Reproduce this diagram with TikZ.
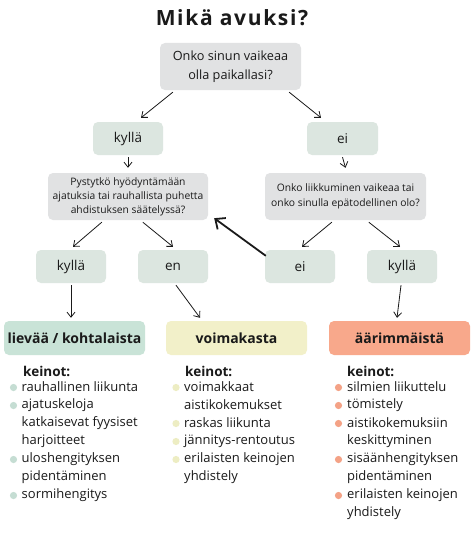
\documentclass[tikz,border=0pt]{standalone}
\usepackage{fontspec}
\setmainfont{Open Sans}
\newfontfamily\titlefont[LetterSpace=8]{Open Sans}
\usetikzlibrary{arrows.meta,calc}
\definecolor{qgray}{HTML}{E1E2E3}
\definecolor{agreen}{HTML}{DCE6E0}
\definecolor{mint}{HTML}{C9E3D7}
\definecolor{pyellow}{HTML}{F2F0C9}
\definecolor{salmon}{HTML}{F8A88B}
\definecolor{bmint}{HTML}{C5DDD3}
\definecolor{byellow}{HTML}{EDEDC3}
\definecolor{bsalmon}{HTML}{F4A286}
\definecolor{txt}{HTML}{1A1A1A}
\begin{document}
\begin{tikzpicture}[x=1pt,y=-1pt,
  box/.style={rounded corners=5pt,inner sep=0pt,align=center,text=txt},
  qbox/.style={box,fill=qgray},
  abox/.style={box,fill=agreen,minimum width=70pt,minimum height=33pt,font=\fontsize{13.5}{15}\selectfont},
  cbox/.style={box,minimum width=141pt,minimum height=34pt,font=\bfseries\fontsize{14}{15}\selectfont},
  arr/.style={-{Straight Barb[length=5pt,width=8pt]},line width=0.8pt,txt},
  item/.style={anchor=west,inner sep=0pt,text=txt,font=\fontsize{13}{14}\selectfont},
  head/.style={anchor=west,inner sep=0pt,text=txt,font=\bfseries\fontsize{13.5}{15}\selectfont},
]
\useasboundingbox (0,0) rectangle (474,535);
\fill[white] (0,0) rectangle (474,535);
\node[inner sep=0pt,text=txt] (title) at (232,18) {\titlefont\bfseries\fontsize{21}{24}\selectfont Mikä avuksi?};

\node[qbox,minimum width=141pt,minimum height=47pt,font=\fontsize{12.7}{19}\selectfont] (q1) at (230.5,66.5) {Onko sinun vaikeaa\\olla paikallasi?};
\node[abox] (k1) at (128,138.5) {kyllä};
\node[abox,minimum width=71pt] (e1) at (342.5,138.5) {ei};
\node[qbox,minimum width=160pt,minimum height=47pt,font=\fontsize{10.3}{14}\selectfont] (q2) at (128,196.5) {Pystytkö hyödyntämään\\ajatuksia tai rauhallista puhetta\\ahdistuksen säätelyssä?};
\node[qbox,minimum width=161pt,minimum height=47pt,font=\fontsize{10.3}{15}\selectfont] (q3) at (345.5,196.5) {Onko liikkuminen vaikeaa tai\\onko sinulla epätodellinen olo?};
\node[abox] (k2) at (71,266.5) {kyllä};
\node[abox] (en) at (173,266.5) {en};
\node[abox] (e2) at (300,266.5) {ei};
\node[abox] (k3) at (402,266.5) {kyllä};
\node[cbox,fill=mint] (c1) at (74.5,338) {lievää / kohtalaista};
\node[cbox,fill=pyellow] (c2) at (236.5,338) {voimakasta};
\node[cbox,fill=salmon] (c3) at (399.5,338) {äärimmäistä};

\draw[arr] ([shift={(13,2)}]q1.south west) -- ([shift={(13,-4)}]k1.north);
\draw[arr] ([shift={(-12,2)}]q1.south east) -- ([shift={(-21.5,-4)}]e1.north);
\draw[arr] ([yshift=-2pt]k1.south) -- ([yshift=5pt]q2.north);
\draw[arr] ([yshift=-2pt]e1.south) -- ([yshift=5pt]q3.north);
\draw[arr] ([shift={(54,2)}]q2.south west) -- ([shift={(2,-3)}]k2.north);
\draw[arr] ([shift={(95,2)}]q2.south west) -- ([shift={(0,-3)}]en.north);
\draw[arr] ([shift={(67,2)}]q3.south west) -- ([shift={(2,-3)}]e2.north);
\draw[arr] ([shift={(104,2)}]q3.south west) -- ([shift={(-2,-3)}]k3.north);
\draw[-{Straight Barb[length=8pt,width=14pt]},line width=1.8pt,txt] ([shift={(1,6)}]e2.north west) -- ([shift={(6,-2)}]q2.south east);
\draw[arr] ([yshift=-2pt]k2.south) -- ([shift={(-3.5,-3)}]c1.north);
\draw[arr] ([shift={(3,2)}]en.south) -- ([shift={(-36.5,-3)}]c2.north);
\draw[arr] ([shift={(-1,2)}]k3.south) -- ([shift={(-2.5,-3)}]c3.north);

% left list
\node[head] (h1) at (23,371) {keinot:};
\foreach \y/\t/\b [count=\i] in {387/rauhallinen liikunta/1,405/ajatuskeloja/1,423/katkaisevat fyysiset/0,441/harjoitteet/0,459/uloshengityksen/1,477/pidentäminen/0,495/sormihengitys/1}{
  \node[item] (l\i) at (21.5,\y) {\t};
  \ifnum\b=1 \fill[bmint] (13.5,\y+0.5) circle (3.6pt);\fi
}
% middle list
\node[head] (h2) at (185,371) {keinot:};
\foreach \y/\t/\b [count=\i] in {387/voimakkaat/1,405/aistikokemukset/0,423/raskas liikunta/1,441/jännitys-rentoutus/1,459/erilaisten keinojen/1,477/yhdistely/0}{
  \node[item] (m\i) at (184,\y) {\t};
  \ifnum\b=1 \fill[byellow] (176,\y+0.5) circle (3.6pt);\fi
}
% right list
\node[head] (h3) at (347,371) {keinot:};
\foreach \y/\t/\b [count=\i] in {387/silmien liikuttelu/1,405/tömistely/1,423/aistikokemuksiin/1,441/keskittyminen/0,459/sisäänhengityksen/1,477/pidentäminen/0,495/erilaisten keinojen/1,513/yhdistely/0}{
  \node[item] (r\i) at (347,\y) {\t};
  \ifnum\b=1 \fill[bsalmon] (338.5,\y+0.5) circle (3.6pt);\fi
}
\end{tikzpicture}
\end{document}
